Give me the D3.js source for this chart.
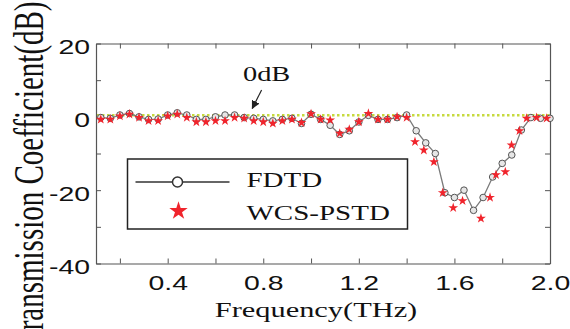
<!DOCTYPE html>
<html>
<head>
<meta charset="utf-8">
<script src="https://cdn.jsdelivr.net/npm/d3@7"></script>
<style>
  html, body { margin: 0; padding: 0; background: #fff; }
  svg { display: block; font-family: "Liberation Serif", "DejaVu Serif", serif; }
</style>
</head>
<body>
<svg id="viz" width="570" height="329"></svg>
<script>
// FDTD 曲線（○ 付き実線）
const fdtdFreq = [0.12, 0.16, 0.20, 0.24, 0.28, 0.32, 0.36, 0.40, 0.44, 0.48, 0.52, 0.56,
  0.60, 0.64, 0.68, 0.72, 0.76, 0.80, 0.84, 0.88, 0.92, 0.96, 1.00, 1.04,
  1.08, 1.12, 1.16, 1.20, 1.24, 1.28, 1.32, 1.36, 1.40, 1.44, 1.48, 1.52,
  1.56, 1.60, 1.64, 1.68, 1.72, 1.76, 1.80, 1.84, 1.88, 1.92, 1.96, 2.00];
const fdtdValue = [-0.2, -0.4, 0.5, 0.9, 0.0, -0.7, -0.6, 0.5, 1.1, 0.5, -0.7, -0.7,
  0.0, 0.5, 0.5, -0.2, -0.4, -0.7, -1.1, -0.7, -0.4, -1.8, 0.7, -0.7,
  -2.3, -4.8, -3.8, -1.4, 0.4, -0.7, -0.7, -0.2, 0.5, -3.8, -7.1, -10.0,
  -20.7, -22.0, -20.0, -25.5, -22.0, -16.4, -12.7, -10.4, -3.6, -0.2, -0.4, -0.4];

// WCS-PSTD（★ のみ）
const wcsFreq = [0.12, 0.16, 0.20, 0.24, 0.28, 0.32, 0.36, 0.40, 0.44, 0.48, 0.52, 0.56,
  0.60, 0.64, 0.68, 0.72, 0.76, 0.80, 0.84, 0.88, 0.92, 0.96, 1.00, 1.04,
  1.08, 1.12, 1.16, 1.20, 1.24, 1.28, 1.32, 1.36, 1.40, 1.435, 1.472, 1.514,
  1.551, 1.595, 1.634, 1.711, 1.749, 1.774, 1.813, 1.839, 1.872, 1.902, 1.944, 1.986];
const wcsValue = [-0.7, -0.7, 0.2, 0.7, -0.2, -1.1, -1.1, 0.2, 0.7, -0.2, -1.4, -1.4,
  -1.1, -1.1, -0.2, -0.4, -1.1, -1.4, -1.8, -1.1, -0.7, -1.6, 0.8, -0.7,
  -0.9, -4.5, -3.4, -1.4, 0.9, -0.7, -0.7, 0.0, -0.2, -6.8, -9.1, -12.3,
  -20.7, -24.8, -22.9, -27.7, -22.0, -15.8, -15.0, -7.7, -3.8, -0.4, -0.2, -0.4];

// 軸の目盛
const xTicks = [0.2, 0.4, 0.6, 0.8, 1.0, 1.2, 1.4, 1.6, 1.8, 2.0];
const xLabeled = [0.4, 0.8, 1.2, 1.6, 2.0];
const yTicks = [20, 10, 0, -10, -20, -30, -40];
const yLabeled = [20, 0, -20, -40];
const refLevel = 0; // 0dB 参照線

const svg = d3.select("#viz");
const stretch = 1.42; // 元図は横に引き伸ばされている

const x = d3.scaleLinear().domain([0.1, 2.0]).range([96, 550]);
const y = d3.scaleLinear().domain([-40, 20]).range([263.5, 43.5]);

const fdtd = fdtdFreq.map((f, i) => ({ f, v: fdtdValue[i] }));
const wcs = wcsFreq.map((f, i) => ({ f, v: wcsValue[i] }));

// 0dB 参照線（点線）
svg.append("line")
  .attr("x1", x(0.1) + 1).attr("x2", x(2.0))
  .attr("y1", y(refLevel) - 1.5).attr("y2", y(refLevel) - 1.5)
  .attr("stroke", "#c6da3e")
  .attr("stroke-width", 2.5)
  .attr("stroke-dasharray", "2.5,2.5");

// 枠と目盛
const tick = 5;
const fmtX = d => xLabeled.some(v => Math.abs(v - d) < 1e-9) ? d.toFixed(1) : "";
const fmtY = d => yLabeled.includes(d) ? d : "";

function styleAxis(g) {
  g.select(".domain").attr("stroke", "#555").attr("stroke-width", 1.2);
  g.selectAll(".tick line").attr("stroke", "#555");
  g.selectAll(".tick text")
    .attr("fill", "#111")
    .style("font-size", "20px");
}

const gx = svg.append("g")
  .attr("transform", `translate(0,${y(-40)})`)
  .call(d3.axisBottom(x).tickValues(xTicks).tickFormat(fmtX)
    .tickSizeInner(-tick).tickSizeOuter(0).tickPadding(17))
  .call(styleAxis);
gx.selectAll(".tick text")
  .attr("dy", null)
  .attr("y", 27)
  .attr("transform", `scale(${stretch},1)`)
  .attr("x", 0);

svg.append("g")
  .attr("transform", `translate(0,${y(20)})`)
  .call(d3.axisTop(x).tickValues(xTicks).tickFormat("")
    .tickSizeInner(-tick).tickSizeOuter(0))
  .call(styleAxis);

const gy = svg.append("g")
  .attr("transform", `translate(${x(0.1)},0)`)
  .call(d3.axisLeft(y).tickValues(yTicks).tickFormat(fmtY)
    .tickSizeInner(-tick).tickSizeOuter(0))
  .call(styleAxis);
gy.selectAll(".tick text")
  .attr("dy", null)
  .attr("x", null)
  .attr("y", 0)
  .attr("transform", `translate(-6,10) scale(${stretch},1)`);

svg.append("g")
  .attr("transform", `translate(${x(2.0)},0)`)
  .call(d3.axisRight(y).tickValues(yTicks).tickFormat("")
    .tickSizeInner(-tick).tickSizeOuter(0))
  .call(styleAxis);

// 軸タイトル
svg.append("text")
  .attr("transform", `translate(316,317) scale(1.52,1)`)
  .attr("text-anchor", "middle")
  .style("font-size", "20px")
  .attr("fill", "#111")
  .text("Frequency(THz)");

// 元図と同様に上下がはみ出す
svg.append("text")
  .attr("transform", `translate(43,347) scale(${stretch},1) rotate(-90)`)
  .attr("text-anchor", "start")
  .style("font-size", "29px")
  .attr("fill", "#111")
  .text("Transmission Coefficient(dB)");

// FDTD 線とマーカー
svg.append("path")
  .datum(fdtd)
  .attr("fill", "none")
  .attr("stroke", "#7a7a7a")
  .attr("stroke-width", 1.3)
  .attr("d", d3.line().x(d => x(d.f)).y(d => y(d.v)));

svg.append("g")
  .selectAll("circle")
  .data(fdtd)
  .enter().append("circle")
  .attr("cx", d => x(d.f))
  .attr("cy", d => y(d.v))
  .attr("r", 3.3)
  .attr("fill", "#e6e6e6")
  .attr("stroke", "#555")
  .attr("stroke-width", 1);

// WCS-PSTD 星マーカー
const star = d3.symbol().type(d3.symbolStar);
svg.append("g")
  .selectAll("path")
  .data(wcs)
  .enter().append("path")
  .attr("transform", d => `translate(${x(d.f)},${y(d.v)})`)
  .attr("d", star.size(30)())
  .attr("fill", "#f0242c");

// 0dB 注記
const arrowFrom = { f: 0.793, v: 7.3 };
const arrowTo = { f: 0.754, v: 2.3 };
svg.append("defs").append("marker")
  .attr("id", "head")
  .attr("viewBox", "0 0 10 10")
  .attr("refX", 9).attr("refY", 5)
  .attr("markerWidth", 7).attr("markerHeight", 7)
  .attr("orient", "auto")
  .append("path")
  .attr("d", "M0,0 L10,5 L0,10 z")
  .attr("fill", "#222");

svg.append("line")
  .attr("x1", x(arrowFrom.f)).attr("y1", y(arrowFrom.v))
  .attr("x2", x(arrowTo.f)).attr("y2", y(arrowTo.v))
  .attr("stroke", "#222")
  .attr("stroke-width", 1.2)
  .attr("marker-end", "url(#head)");

svg.append("text")
  .attr("transform", `translate(${x(0.715)},${y(9.7)}) scale(${stretch},1)`)
  .style("font-size", "20px")
  .attr("fill", "#111")
  .text("0dB");

// 凡例
const legend = svg.append("g").attr("transform", "translate(127.5,159)");
legend.append("rect")
  .attr("width", 280).attr("height", 70)
  .attr("fill", "#fff")
  .attr("stroke", "#222")
  .attr("stroke-width", 1.5);

legend.append("line")
  .attr("x1", 8).attr("x2", 102)
  .attr("y1", 23).attr("y2", 23)
  .attr("stroke", "#333")
  .attr("stroke-width", 1.5);
legend.append("circle")
  .attr("cx", 50).attr("cy", 23).attr("r", 5)
  .attr("fill", "#fff")
  .attr("stroke", "#333")
  .attr("stroke-width", 1.5);
legend.append("path")
  .attr("transform", "translate(51,52)")
  .attr("d", star.size(105)())
  .attr("fill", "#f0242c");

[["FDTD", 28], ["WCS-PSTD", 61]].forEach(([label, by]) => {
  legend.append("text")
    .attr("transform", `translate(119,${by}) scale(1.45,1)`)
    .style("font-size", "20px")
    .attr("fill", "#111")
    .text(label);
});
</script>
</body>
</html>
